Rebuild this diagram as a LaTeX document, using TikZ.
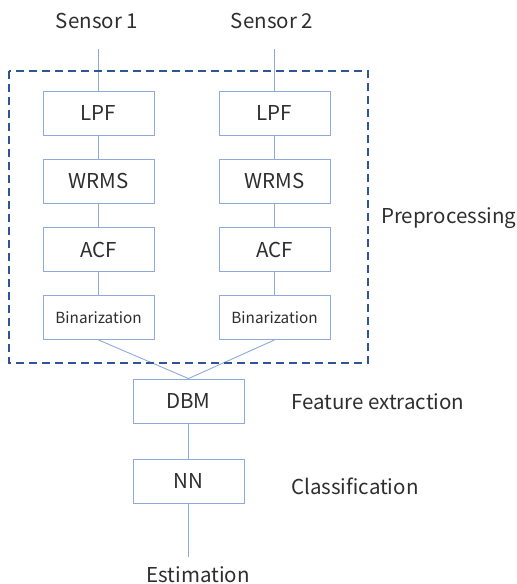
\documentclass[tikz,border=0pt]{standalone}
\usepackage{fontspec}
\setmainfont{Noto Sans CJK JP}
\definecolor{linkblue}{HTML}{8EA9DB}
\definecolor{framebl}{HTML}{2F5597}
\definecolor{txt}{HTML}{2E2E2E}
\begin{document}
\begin{tikzpicture}[x=1pt,y=-1pt,
  block/.style={draw=linkblue,line width=0.9pt,minimum width=111pt,minimum height=44pt,
    inner sep=0pt,text=txt,font=\fontsize{20.5}{24}\selectfont},
  smallblock/.style={block,font=\fontsize{15.3}{18}\selectfont},
  label/.style={text=txt,font=\fontsize{20.5}{24}\selectfont,inner sep=0pt},
  link/.style={draw=linkblue,line width=0.9pt}]
\useasboundingbox (0,0) rectangle (517,584);

% inputs
\node[label] (s1) at (97,21) {Sensor 1};
\node[label] (s2) at (272,21) {Sensor 2};
\coordinate (s1end) at (98.5,49);
\coordinate (s2end) at (274.5,49);

% preprocessing chains
\node[block] (lpf1) at (98.5,113) {LPF};
\node[block] (wrms1) at (98.5,181) {WRMS};
\node[block] (acf1) at (98.5,249.5) {ACF};
\node[smallblock] (bin1) at (98.5,317.5) {Binarization};

\node[block] (lpf2) at (274.5,113) {LPF};
\node[block] (wrms2) at (274.5,181) {WRMS};
\node[block] (acf2) at (274.5,249.5) {ACF};
\node[smallblock] (bin2) at (274.5,317.5) {Binarization};

% later stages
\node[block] (dbm) at (188.5,401) {DBM};
\node[block] (nn) at (188.5,481) {NN};
\coordinate (outend) at (188.5,557);
\node[label] (est) at (198,575) {Estimation};

% stage labels
\node[label,anchor=west] (pre) at (381,218) {Preprocessing};
\node[label,anchor=west] (fe) at (291,402) {Feature extraction};
\node[label,anchor=west] (cl) at (291,486) {Classification};

% connectors
\draw[link] (s1end) -- (lpf1) -- (wrms1) -- (acf1) -- (bin1);
\draw[link] (s2end) -- (lpf2) -- (wrms2) -- (acf2) -- (bin2);
\draw[link] (bin1.south) -- (dbm.north) -- (bin2.south);
\draw[link] (dbm) -- (nn) -- (outend);

% preprocessing frame
\draw[framebl,line width=2pt,dash pattern=on 8pt off 5pt] (9,71) rectangle (368,363);
\end{tikzpicture}
\end{document}
